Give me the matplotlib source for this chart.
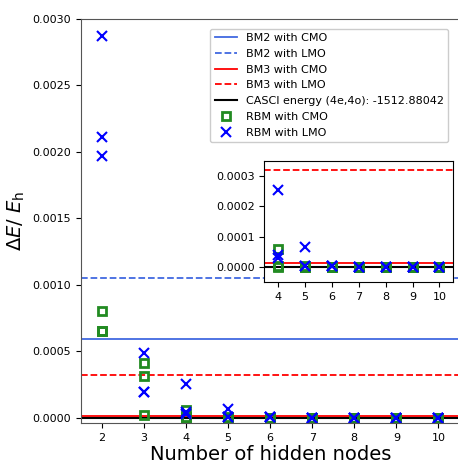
import numpy as np
import matplotlib.pyplot as plt

# hidden nodes and RBM errors (3 runs per node count)
nodes = [2, 3, 4, 5, 6, 7, 8, 9, 10]
rbm_cmo = [[0.00080, 0.00065, 0.00065],
           [0.00041, 0.00031, 0.00002],
           [0.00006, 0.000002, 0.000001],
           [0.000002, 0.000001, 0.000001],
           [0.000001, 0.000001, 0.0],
           [0.0, 0.0, 0.0],
           [0.0, 0.0, 0.0],
           [0.0, 0.0, 0.0],
           [0.0, 0.0, 0.0]]
rbm_lmo = [[0.00287, 0.00211, 0.00197],
           [0.00049, 0.00019, 0.00019],
           [0.000255, 0.00004, 0.00003],
           [0.000065, 0.000004, 0.000003],
           [0.000003, 0.000002, 0.000002],
           [0.000001, 0.000001, 0.0],
           [0.0, 0.0, 0.0],
           [0.0, 0.0, 0.0],
           [0.000001, 0.0, 0.0]]

bm2_cmo = 0.00059
bm2_lmo = 0.00105
bm3_cmo = 0.000013
bm3_lmo = 0.00032
casci = 0.0

def draw(ax, idx, lab=True):
    ax.axhline(bm2_cmo, color='royalblue', ls='-', lw=1.3, label='BM2 with CMO' if lab else None)
    ax.axhline(bm2_lmo, color='royalblue', ls='--', lw=1.3, label='BM2 with LMO' if lab else None)
    ax.axhline(bm3_cmo, color='red', ls='-', lw=1.3, label='BM3 with CMO' if lab else None)
    ax.axhline(bm3_lmo, color='red', ls='--', lw=1.3, label='BM3 with LMO' if lab else None)
    ax.axhline(casci, color='black', ls='-', lw=1.5,
               label='CASCI energy (4e,4o): -1512.88042' if lab else None)
    for k, i in enumerate(idx):
        n = nodes[i]
        ax.plot([n]*len(rbm_cmo[i]), rbm_cmo[i], 's', mfc='none', mec='forestgreen',
                mew=2, ms=6, label='RBM with CMO' if (lab and k == 0) else None)
    for k, i in enumerate(idx):
        n = nodes[i]
        ax.plot([n]*len(rbm_lmo[i]), rbm_lmo[i], 'x', color='blue',
                mew=1.5, ms=7.5, label='RBM with LMO' if (lab and k == 0) else None)

fig = plt.figure(figsize=(4.58, 4.63), dpi=100)
ax = fig.add_axes([0.177, 0.0864, 0.826, 0.8726])
draw(ax, range(len(nodes)))
ax.set_xlim(1.5, 10.5)
ax.set_ylim(-0.00004, 0.0030)
ax.set_xticks(nodes)
ax.tick_params(labelsize=8)
ax.set_yticks([0, 0.0005, 0.001, 0.0015, 0.002, 0.0025, 0.003])
ax.set_yticklabels(['0.0000', '0.0005', '0.0010', '0.0015', '0.0020', '0.0025', '0.0030'])
ax.set_xlabel('Number of hidden nodes', fontsize=14, labelpad=2)
ax.set_ylabel(r'$\Delta E/\ E_\mathrm{h}$', fontsize=14)
for s in ax.spines.values():
    s.set_color('#555555')
ax.legend(loc='upper right', bbox_to_anchor=(0.985, 0.99), fontsize=8, framealpha=1,
          handlelength=2.0, borderpad=0.4, labelspacing=0.52)

ins = fig.add_axes([0.577, 0.391, 0.412, 0.261])
draw(ins, range(2, len(nodes)), lab=False)
ins.set_xlim(3.5, 10.5)
ins.set_ylim(-0.00005, 0.00035)
ins.set_xticks(nodes[2:])
ins.set_yticks([0, 0.0001, 0.0002, 0.0003])
ins.set_yticklabels(['0.0000', '0.0001', '0.0002', '0.0003'])
ins.tick_params(labelsize=8)

fig.savefig('out.png', dpi=100)
